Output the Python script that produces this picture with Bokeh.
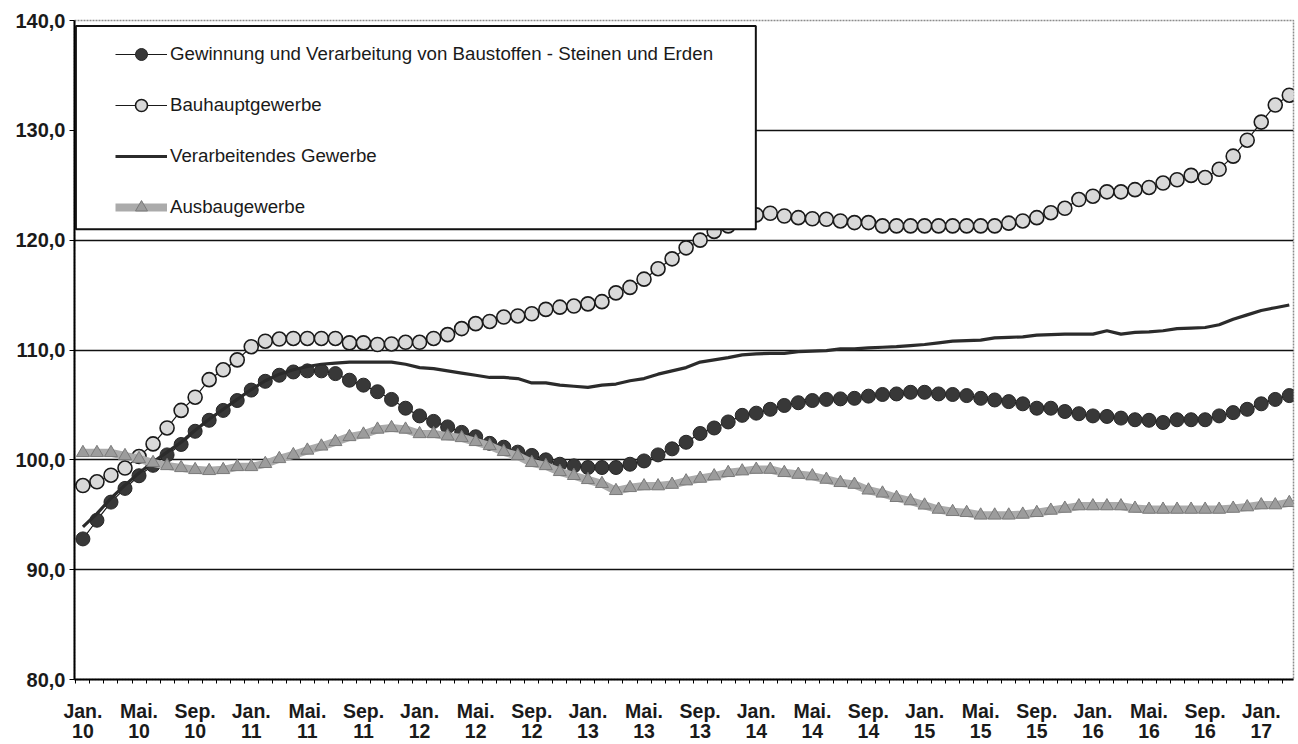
from bokeh.plotting import figure
from bokeh.models import FixedTicker, Range1d, Legend, LegendItem, BoxAnnotation
from bokeh.embed import file_html
from bokeh.resources import INLINE

# ---------------- data (monthly, Jan 2010 .. Mar 2017) ----------------
months = list(range(87))

tick_pos = list(range(0, 85, 4))
tick_labels = ["Jan.\n10", "Mai.\n10", "Sep.\n10", "Jan.\n11", "Mai.\n11", "Sep.\n11",
               "Jan.\n12", "Mai.\n12", "Sep.\n12", "Jan.\n13", "Mai.\n13", "Sep.\n13",
               "Jan.\n14", "Mai.\n14", "Sep.\n14", "Jan.\n15", "Mai.\n15", "Sep.\n15",
               "Jan.\n16", "Mai.\n16", "Sep.\n16", "Jan.\n17"]

y_ticks = [80, 90, 100, 110, 120, 130, 140]
y_labels = ["80,0", "90,0", "100,0", "110,0", "120,0", "130,0", "140,0"]

series_names = ["Gewinnung und Verarbeitung von Baustoffen - Steinen und Erden",
                "Bauhauptgewerbe", "Verarbeitendes Gewerbe", "Ausbaugewerbe"]

gewinnung = [92.8, 94.5, 96.15, 97.4, 98.55, 99.5, 100.45, 101.4, 102.6, 103.6,
             104.5, 105.4, 106.35, 107.15, 107.7, 108.0, 108.1, 108.1, 107.85, 107.25,
             106.8, 106.2, 105.5, 104.7, 104.0, 103.5, 103.0, 102.5, 102.1, 101.5,
             101.15, 100.7, 100.4, 100.0, 99.6, 99.45, 99.3, 99.3, 99.3, 99.6,
             99.9, 100.45, 101.0, 101.6, 102.4, 102.9, 103.45, 104.05, 104.25, 104.6,
             104.95, 105.2, 105.4, 105.5, 105.55, 105.6, 105.8, 105.95, 106.0, 106.15,
             106.15, 106.0, 105.95, 105.85, 105.6, 105.45, 105.3, 105.1, 104.7, 104.7,
             104.4, 104.2, 104.0, 103.95, 103.8, 103.65, 103.6, 103.4, 103.65, 103.65,
             103.65, 104.0, 104.3, 104.6, 105.1, 105.5, 105.85]

bauhaupt = [97.66, 98.0, 98.6, 99.25, 100.3, 101.45, 102.9, 104.5, 105.7, 107.3,
            108.2, 109.1, 110.3, 110.8, 111.0, 111.05, 111.05, 111.05, 111.05, 110.65,
            110.65, 110.5, 110.55, 110.7, 110.7, 111.05, 111.4, 111.95, 112.4, 112.6,
            113.0, 113.1, 113.3, 113.7, 113.9, 114.0, 114.2, 114.4, 115.2, 115.7,
            116.45, 117.4, 118.3, 119.3, 120.0, 120.8, 121.3, 121.9, 122.3, 122.45,
            122.2, 122.05, 121.95, 121.9, 121.75, 121.6, 121.6, 121.3, 121.3, 121.3,
            121.3, 121.3, 121.3, 121.3, 121.3, 121.3, 121.55, 121.75, 122.05, 122.5,
            122.9, 123.7, 124.0, 124.4, 124.4, 124.6, 124.8, 125.2, 125.5, 125.9,
            125.7, 126.45, 127.65, 129.1, 130.75, 132.3, 133.2]

verarbeitend = [93.9, 95.1, 96.5, 97.7, 98.8, 99.8, 100.7, 101.6, 102.7, 103.7,
                104.6, 105.5, 106.4, 107.2, 107.8, 108.2, 108.5, 108.7, 108.8, 108.9,
                108.9, 108.9, 108.9, 108.7, 108.4, 108.3, 108.1, 107.9, 107.7, 107.5,
                107.5, 107.4, 107.0, 107.0, 106.8, 106.7, 106.6, 106.8, 106.9, 107.2,
                107.4, 107.8, 108.1, 108.4, 108.9, 109.1, 109.3, 109.55, 109.65, 109.7,
                109.7, 109.85, 109.9, 109.95, 110.1, 110.1, 110.2, 110.25, 110.3, 110.4,
                110.5, 110.65, 110.8, 110.85, 110.9, 111.1, 111.15, 111.2, 111.35, 111.4,
                111.45, 111.45, 111.45, 111.75, 111.45, 111.6, 111.65, 111.75, 111.95, 112.0,
                112.05, 112.3, 112.8, 113.2, 113.6, 113.85, 114.1]

ausbau = [100.64, 100.64, 100.64, 100.36, 100.09, 99.73, 99.45, 99.27, 99.09, 99.0,
          99.09, 99.36, 99.36, 99.64, 100.09, 100.45, 100.86, 101.23, 101.64, 102.09,
          102.32, 102.77, 102.91, 102.77, 102.36, 102.36, 102.15, 102.0, 101.64, 101.27,
          100.73, 100.36, 99.73, 99.45, 98.91, 98.55, 98.18, 97.82, 97.18, 97.45,
          97.61, 97.61, 97.75, 98.06, 98.3, 98.52, 98.82, 98.97, 99.12, 99.12,
          98.82, 98.66, 98.52, 98.21, 97.91, 97.75, 97.23, 96.95, 96.55, 96.25,
          95.86, 95.48, 95.27, 95.18, 94.95, 94.95, 94.95, 95.03, 95.18, 95.39,
          95.57, 95.79, 95.79, 95.79, 95.79, 95.57, 95.48, 95.48, 95.48, 95.48,
          95.48, 95.48, 95.57, 95.7, 95.88, 95.88, 96.09]

FONT = "Liberation Sans"

# ---------------- figure ----------------
p = figure(width=1296, height=744,
           x_range=Range1d(-0.6, 86.3), y_range=Range1d(80, 140),
           output_backend="svg", toolbar_location=None,
           min_border_left=74, min_border_right=3, min_border_top=20, min_border_bottom=63)
p.background_fill_color = "white"
p.border_fill_color = "white"
p.outline_line_color = "#8c8c8c"
p.outline_line_width = 1.5
p.outline_line_dash = "2 1"

# grid
p.xgrid.visible = False
p.ygrid.ticker = FixedTicker(ticks=[90, 100, 110, 120, 130])
p.ygrid.grid_line_color = "#111111"
p.ygrid.grid_line_width = 1.6

# y axis
p.yaxis.ticker = FixedTicker(ticks=y_ticks)
p.yaxis.major_label_overrides = dict(zip(y_ticks, y_labels))
p.yaxis.major_label_text_font = FONT
p.yaxis.major_label_text_font_style = "bold"
p.yaxis.major_label_text_font_size = "20px"
p.yaxis.major_label_text_color = "#1a1a1a"
p.yaxis.major_label_standoff = 4
p.yaxis.major_tick_out = 5
p.yaxis.major_tick_in = 0
p.yaxis.major_tick_line_color = "black"
p.yaxis.minor_tick_line_color = None
p.yaxis.axis_line_color = "black"
p.yaxis.axis_line_width = 2

# x axis
p.xaxis.ticker = FixedTicker(ticks=tick_pos, minor_ticks=[m + 0.5 for m in range(-1, 87)])
p.xaxis.major_label_overrides = dict(zip(tick_pos, tick_labels))
p.xaxis.major_label_text_font = FONT
p.xaxis.major_label_text_font_style = "bold"
p.xaxis.major_label_text_font_size = "19.5px"
p.xaxis.major_label_text_color = "#1a1a1a"
p.xaxis.major_label_text_line_height = 0.92
p.xaxis.major_label_standoff = 16
p.xaxis.major_tick_out = 0
p.xaxis.major_tick_in = 0
p.xaxis.minor_tick_out = 4
p.xaxis.minor_tick_in = 0
p.xaxis.minor_tick_line_color = "black"
p.xaxis.minor_tick_line_width = 1
p.xaxis.axis_line_color = "black"
p.xaxis.axis_line_width = 2

# ---------------- series ----------------
r_gew_line = p.line(months, gewinnung, line_color="#1a1a1a", line_width=1.2)
r_gew_pts = p.scatter(months, gewinnung, marker="circle", size=14,
                      fill_color="#383838", line_color="#262626", line_width=1)

r_bau_line = p.line(months, bauhaupt, line_color="#1a1a1a", line_width=1.2)
r_bau_pts = p.scatter(months, bauhaupt, marker="circle", size=14,
                      fill_color="#d9d9d9", line_color="#1a1a1a", line_width=1.6)

r_ver = p.line(months, verarbeitend, line_color="#2b2b2b", line_width=3.2)

r_aus_line = p.line(months, ausbau, line_color="#ababab", line_width=8)
r_aus_pts = p.scatter(months, ausbau, marker="triangle", size=13,
                      fill_color="#9c9c9c", line_color="#7a7a7a", line_width=1)

# ---------------- legend ----------------
legend_frame = BoxAnnotation(left=-0.5, right=47.97, top=139.5, bottom=121.0,
                             fill_color="white", fill_alpha=1.0,
                             line_color="#111111", line_width=2, line_alpha=1.0)
p.add_layout(legend_frame)

legend = Legend(items=[
    LegendItem(label=series_names[0], renderers=[r_gew_line, r_gew_pts]),
    LegendItem(label=series_names[1], renderers=[r_bau_line, r_bau_pts]),
    LegendItem(label=series_names[2], renderers=[r_ver]),
    LegendItem(label=series_names[3], renderers=[r_aus_line, r_aus_pts]),
], location=(41, 457), padding=0, margin=0, spacing=21,
   label_height=30, glyph_height=30, glyph_width=52, label_standoff=3,
   background_fill_alpha=0, border_line_alpha=0,
   label_text_font=FONT, label_text_font_size="18.7px", label_text_color="#1a1a1a")
p.add_layout(legend)

open("out.html", "w").write(file_html(p, INLINE))
